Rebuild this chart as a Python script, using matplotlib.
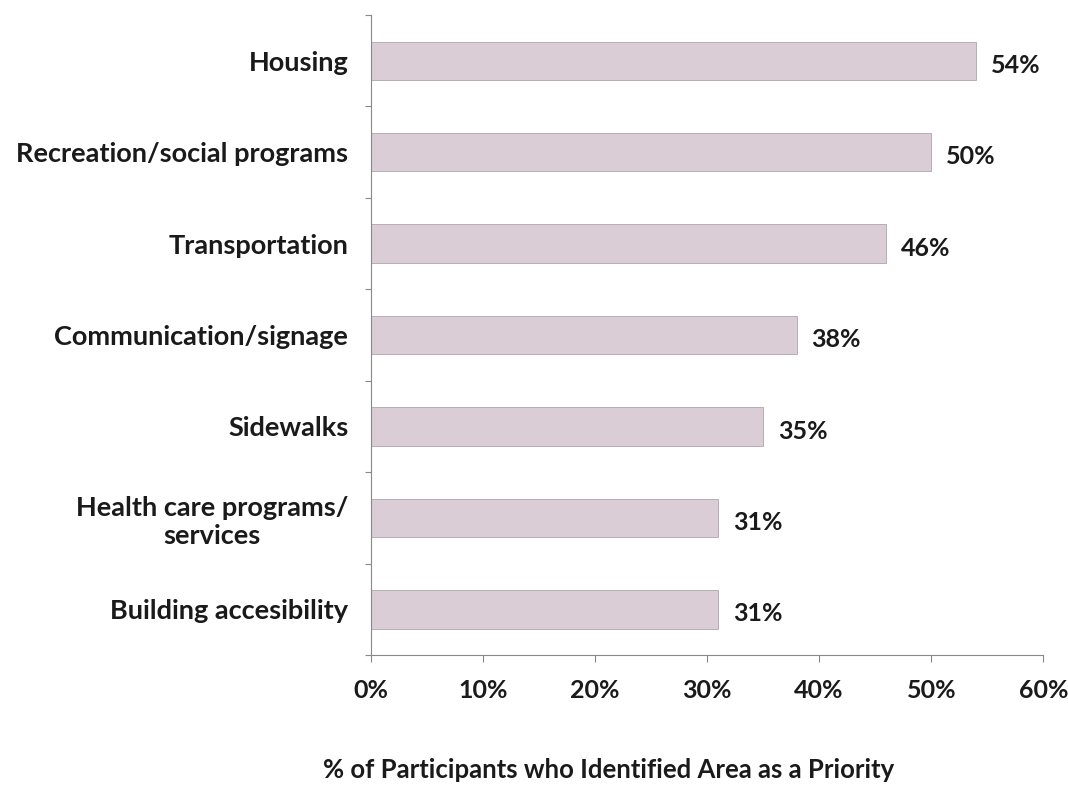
import matplotlib.pyplot as plt
import numpy as np

categories = ['Housing', 'Recreation/social programs', 'Transportation',
              'Communication/signage', 'Sidewalks',
              'Health care programs/\nservices', 'Building accesibility']
values = [54, 50, 46, 38, 35, 31, 31]
x_ticks = [0, 10, 20, 30, 40, 50, 60]

plt.rcParams['font.family'] = ['Lato', 'DejaVu Sans']
plt.rcParams['font.weight'] = 'bold'

fig = plt.figure(figsize=(10.68, 7.93), dpi=100)
ax = fig.add_axes([0.347, 0.174, 0.63, 0.807])

y = np.arange(len(categories))
bars = ax.barh(y, values, height=0.42, color='#dacdd6', edgecolor='#b0a4ad', linewidth=0.6)

# value labels to the right of each bar
for yi, v in zip(y, values):
    ax.text(v + 1.3, yi + 0.05, f'{v}%', va='center', ha='left',
            fontsize=18, fontweight='bold', color='#1a1a1a')

ax.set_xlim(0, 60)
ax.set_ylim(len(categories) - 0.5, -0.5)

ax.set_xticks(x_ticks)
ax.set_xticklabels([f'{t}%' for t in x_ticks], fontsize=18, fontweight='bold', color='#1a1a1a')
ax.tick_params(axis='x', direction='out', length=5, color='#888888', pad=12)

# category labels in the middle, tick marks on the boundaries
ax.set_yticks(np.arange(len(categories) + 1) - 0.5)
ax.set_yticklabels([])
ax.set_yticks(y, minor=True)
ax.set_yticklabels(categories, minor=True, fontsize=19.5, fontweight='bold',
                   color='#1a1a1a', ha='right', multialignment='center')
ax.tick_params(axis='y', which='major', direction='out', length=4, color='#888888')
ax.tick_params(axis='y', which='minor', length=0, pad=16)

for s in ['top', 'right']:
    ax.spines[s].set_visible(False)
ax.spines['left'].set_color('#888888')
ax.spines['bottom'].set_color('#888888')
ax.spines['left'].set_linewidth(0.8)
ax.spines['bottom'].set_linewidth(0.8)

fig.text(0.57, 0.029, '% of Participants who Identified Area as a Priority',
         ha='center', va='center', fontsize=18.5, fontweight='bold', color='#1a1a1a')

fig.savefig('out.png', dpi=100)
